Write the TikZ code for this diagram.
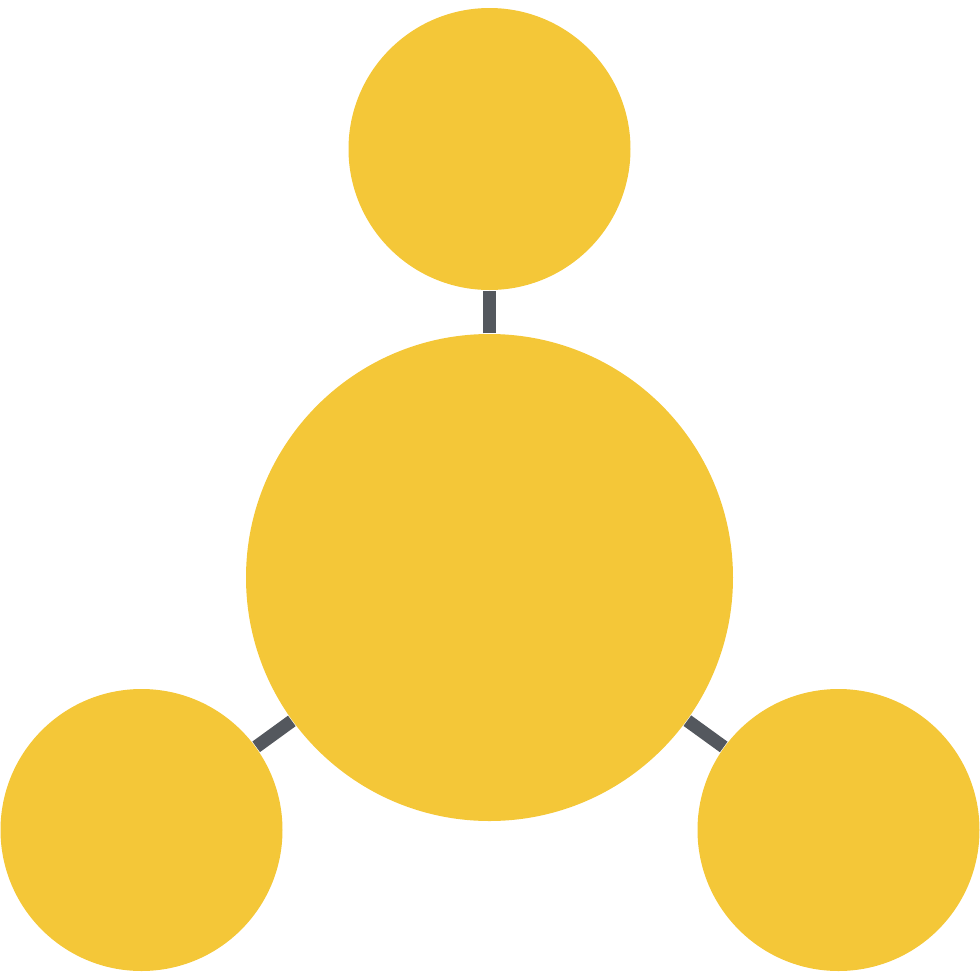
\documentclass[tikz,border=0pt]{standalone}
\definecolor{ballyellow}{HTML}{F4C738}
\definecolor{linkgray}{HTML}{54585E}
\tikzset{
  ball/.style={circle, fill=ballyellow, draw=none, inner sep=0pt},
  link/.style={draw=linkgray, line width=1.3mm}
}
\begin{document}
\begin{tikzpicture}[x=0.1mm,y=-0.1mm]
\useasboundingbox (0,0) rectangle (980,980);
\node[ball, minimum size=48.7mm] (center) at (489.5,577.5) {};
\node[ball, minimum size=28.2mm] (top) at (489.5,149) {};
\node[ball, minimum size=28.2mm] (left) at (141.5,830) {};
\node[ball, minimum size=28.2mm] (right) at (838.5,830) {};
\draw[link] (center) -- (top);
\draw[link] (center) -- (left);
\draw[link] (center) -- (right);
\end{tikzpicture}
\end{document}
